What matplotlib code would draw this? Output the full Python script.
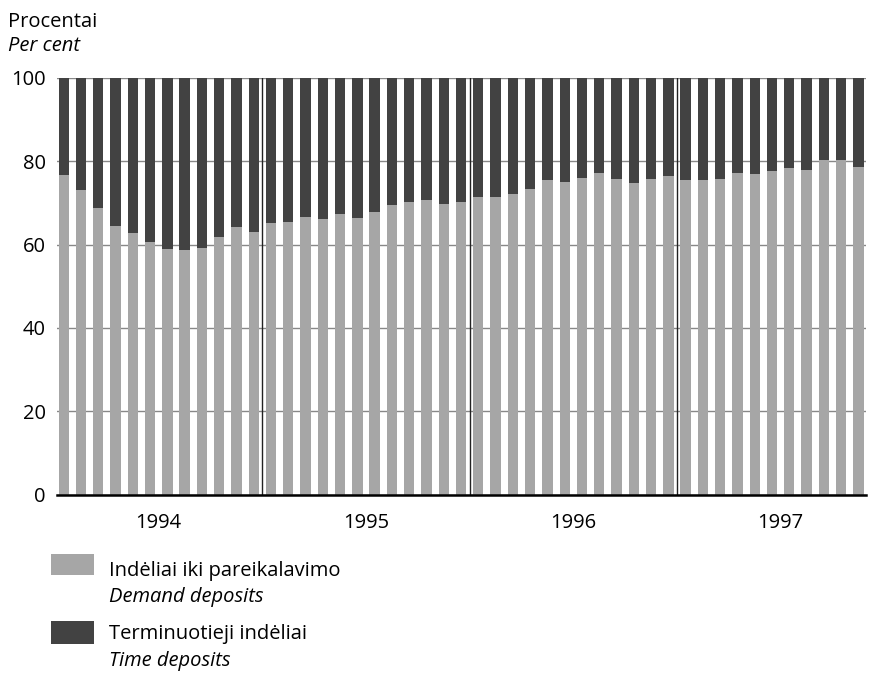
import numpy as np
import matplotlib
matplotlib.use("Agg")
import matplotlib.pyplot as plt
from matplotlib.patches import Rectangle

plt.rcParams['font.family'] = ['Open Sans', 'DejaVu Sans']

# monthly shares, Jan 1994 - Nov 1997 (per cent)
years = ["1994", "1995", "1996", "1997"]
demand = [76.7, 73.1, 68.7, 64.5, 62.8, 60.5, 58.9, 58.6, 59.2, 61.8, 64.3, 62.9,
          65.1, 65.4, 66.5, 66.1, 67.4, 66.4, 67.7, 69.4, 70.3, 70.7, 69.8, 70.3,
          71.4, 71.4, 72.2, 73.4, 75.4, 74.9, 75.9, 77.1, 75.7, 74.7, 75.8, 76.5,
          75.5, 75.5, 75.7, 77.1, 77.0, 77.7, 78.3, 77.9, 80.3, 80.2, 78.7]
time_dep = [100 - d for d in demand]
yticks = [0, 20, 40, 60, 80, 100]

light = "#a6a6a6"
dark = "#424242"
fs = 14.5

fig = plt.figure(figsize=(8.74, 6.76), dpi=100)
ax = fig.add_axes([0.065, 0.268, 0.926, 0.617])

x = np.arange(len(demand))
ax.bar(x, demand, width=0.6, color=light, zorder=2)
ax.bar(x, time_dep, width=0.6, bottom=demand, color=dark, zorder=2)

# year separators
for b in [11.5, 23.5, 35.5]:
    ax.axvline(b, color="#222222", lw=1.0, zorder=3)

ax.set_xlim(-0.4, 46.45)
ax.set_ylim(0, 100)
ax.set_yticks(yticks)
ax.set_yticklabels([str(t) for t in yticks], fontsize=fs)
ax.yaxis.grid(True, color="#888888", lw=1.0, zorder=0)
ax.tick_params(axis="y", length=0, pad=8)
ax.set_xticks([5.5, 17.5, 29.5, 41.5])
ax.set_xticklabels(years, fontsize=fs)
ax.tick_params(axis="x", length=0, pad=13)
for s in ["top", "right", "left"]:
    ax.spines[s].set_visible(False)
ax.spines["bottom"].set_linewidth(1.8)
ax.spines["bottom"].set_color("black")
ax.spines["bottom"].set_zorder(4)

fig.text(0.009, 0.968, "Procentai", fontsize=fs, va="center")
fig.text(0.009, 0.932, "Per cent", fontsize=fs, style="italic", va="center")

# legend
fig.add_artist(Rectangle((0.058, 0.149), 0.050, 0.032, transform=fig.transFigure,
                         facecolor=light, edgecolor="none"))
fig.text(0.125, 0.155, "Indėliai iki pareikalavimo", fontsize=fs, va="center")
fig.text(0.125, 0.117, "Demand deposits", fontsize=fs, style="italic", va="center")
fig.add_artist(Rectangle((0.058, 0.047), 0.050, 0.034, transform=fig.transFigure,
                         facecolor=dark, edgecolor="none"))
fig.text(0.125, 0.062, "Terminuotieji indėliai", fontsize=fs, va="center")
fig.text(0.125, 0.022, "Time deposits", fontsize=fs, style="italic", va="center")

fig.savefig("out.png", dpi=100)
